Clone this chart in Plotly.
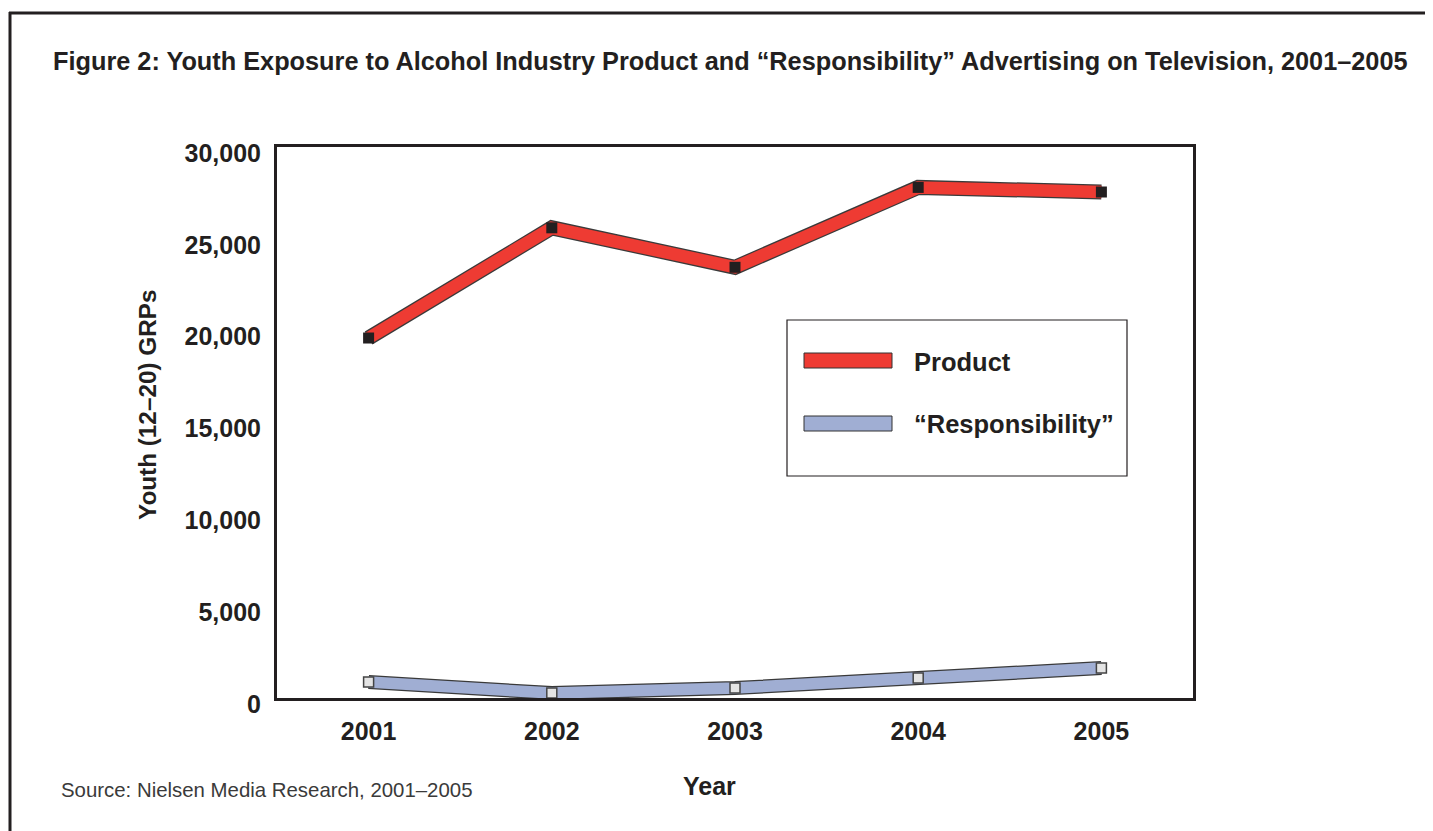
import plotly.graph_objects as go

years = [2001, 2002, 2003, 2004, 2005]
product = [19600, 25600, 23450, 27800, 27550]
responsibility = [870, 270, 540, 1090, 1630]
y_ticks = [0, 5000, 10000, 15000, 20000, 25000, 30000]
y_tick_labels = ["0", "5,000", "10,000", "15,000", "20,000", "25,000", "30,000"]

OFF = 8  # page body margin
W, H = 1433 - OFF, 831 - OFF
L, R, T, B = 277 - OFF, 1193 - OFF, 147 - OFF, 698 - OFF

def px(x):
    return (x - OFF - L) / (R - L)

def py(y):
    return (B - (y - OFF)) / (B - T)

FONT = "Liberation Sans"
DARK = "#231F20"
RED = "#EE3B33"
BLUE = "#A0AED3"

fig = go.Figure()
fig.add_trace(go.Scatter(x=years, y=product, mode="lines",
                         line=dict(color="#3a3a3a", width=15), showlegend=False, hoverinfo="skip"))
fig.add_trace(go.Scatter(x=years, y=product, mode="lines+markers", name="Product",
                         line=dict(color=RED, width=12.5),
                         marker=dict(symbol="square", size=11, color=DARK, line=dict(width=0)),
                         showlegend=False))
fig.add_trace(go.Scatter(x=years, y=responsibility, mode="lines",
                         line=dict(color="#3a3a3a", width=14), showlegend=False, hoverinfo="skip"))
fig.add_trace(go.Scatter(x=years, y=responsibility, mode="lines+markers", name="“Responsibility”",
                         line=dict(color=BLUE, width=11.5),
                         marker=dict(symbol="square", size=10, color="#E4E4E4",
                                     line=dict(width=1.5, color="#444444")),
                         showlegend=False))

shapes = []
shapes.append(dict(type="line", xref="paper", yref="paper", x0=px(10), x1=px(10), y0=py(12), y1=py(840),
                   line=dict(color=DARK, width=3)))
shapes.append(dict(type="line", xref="paper", yref="paper", x0=px(9), x1=px(1440), y0=py(13), y1=py(13),
                   line=dict(color=DARK, width=3)))
shapes.append(dict(type="rect", xref="paper", yref="paper", x0=px(787), x1=px(1127), y0=py(320), y1=py(476),
                   line=dict(color=DARK, width=1.2), fillcolor="white"))
shapes.append(dict(type="rect", xref="paper", yref="paper", x0=px(804), x1=px(892), y0=py(353), y1=py(368),
                   line=dict(color="#333333", width=1), fillcolor=RED))
shapes.append(dict(type="rect", xref="paper", yref="paper", x0=px(804), x1=px(892), y0=py(416), y1=py(431),
                   line=dict(color="#333333", width=1), fillcolor=BLUE))

annotations = [
    dict(text="<b>Figure 2: Youth Exposure to Alcohol Industry Product and “Responsibility” Advertising on Television, 2001–2005</b>",
         x=px(51), y=py(61), xref="paper", yref="paper", xanchor="left", yanchor="middle", showarrow=False,
         font=dict(family=FONT, size=25.3, color=DARK)),
    dict(text="<b>Youth (12–20) GRPs</b>", x=px(147), y=py(405), xref="paper", yref="paper",
         xanchor="center", yanchor="middle", textangle=-90, showarrow=False,
         font=dict(family=FONT, size=24.3, color=DARK)),
    dict(text="<b>Year</b>", x=px(709), y=py(786), xref="paper", yref="paper",
         xanchor="center", yanchor="middle", showarrow=False,
         font=dict(family=FONT, size=25, color=DARK)),
    dict(text="Source: Nielsen Media Research, 2001–2005", x=px(59), y=py(790), xref="paper", yref="paper",
         xanchor="left", yanchor="middle", showarrow=False,
         font=dict(family=FONT, size=20.4, color="#3a3a3a")),
    dict(text="<b>Product</b>", x=px(912), y=py(362), xref="paper", yref="paper",
         xanchor="left", yanchor="middle", showarrow=False,
         font=dict(family=FONT, size=25.5, color=DARK)),
    dict(text="<b>“Responsibility”</b>", x=px(912), y=py(424), xref="paper", yref="paper",
         xanchor="left", yanchor="middle", showarrow=False,
         font=dict(family=FONT, size=25.5, color=DARK)),
]

fig.update_layout(
    width=W, height=H, autosize=False,
    margin=dict(l=L, r=W - R, t=T, b=H - B, pad=0),
    paper_bgcolor="white", plot_bgcolor="white",
    showlegend=False,
    shapes=shapes, annotations=annotations,
    font=dict(family=FONT, color=DARK),
    xaxis=dict(range=[2000.5, 2005.5], tickmode="array", tickvals=years,
               ticktext=[f"<b>{y}</b>" for y in years],
               showgrid=False, zeroline=False, showline=True, mirror=True,
               linecolor=DARK, linewidth=3, ticks="", ticklabelstandoff=9,
               tickfont=dict(family=FONT, size=25, color=DARK), fixedrange=True),
    yaxis=dict(range=[0, 30000], tickmode="array", tickvals=y_ticks,
               ticktext=[f"<b>{t}</b>" for t in y_tick_labels],
               showgrid=False, zeroline=False, showline=True, mirror=True,
               linecolor=DARK, linewidth=3, ticks="", ticklabelstandoff=8,
               ticklabelshift=6,
               tickfont=dict(family=FONT, size=25, color=DARK), fixedrange=True),
)

fig.write_html("out.html")
